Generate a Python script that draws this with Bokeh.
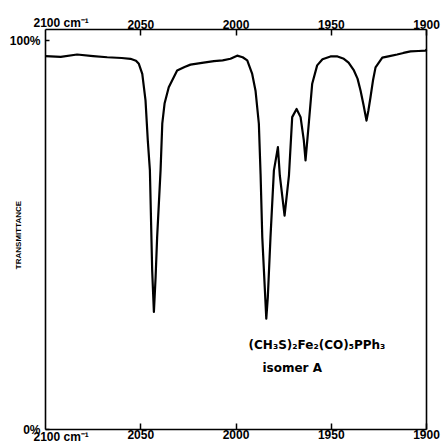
import math
from bokeh.plotting import figure
from bokeh.models import Range1d, FixedTicker, LinearAxis, Label
from bokeh.embed import file_html
from bokeh.resources import INLINE

# IR spectrum (wavenumber in cm-1, transmittance in %)
wavenumber = [2100.0, 2092.0, 2083.4, 2075.0, 2067.6, 2060.0, 2055.4, 2052.5, 2051.0,
              2049.2, 2047.5, 2046.3, 2045.2, 2044.0, 2043.1, 2042.2, 2041.4, 2039.6,
              2038.7, 2037.5, 2035.3, 2030.9, 2027.0, 2023.9, 2017.0, 2011.6, 2007.0,
              2002.9, 1999.4, 1996.5, 1994.1, 1991.5, 1989.75, 1988.0, 1987.1, 1986.2,
              1984.1, 1983.3, 1981.9, 1980.1, 1979.0, 1978.0, 1977.0, 1974.5, 1972.2,
              1970.5, 1968.2, 1966.1, 1964.4, 1963.5, 1961.8, 1960.0, 1957.4, 1954.6,
              1950.4, 1946.7, 1943.4, 1940.9, 1938.1, 1936.2, 1934.6, 1933.0, 1931.5,
              1930.5, 1929.4, 1928.1, 1926.75, 1923.2, 1919.4, 1915.4, 1912.1, 1908.4,
              1904.2, 1900.5, 1900.0]
transmittance = [96.0, 95.8, 96.4, 96.0, 95.7, 95.5, 95.3, 94.8, 94.0,
                 91.4, 84.6, 74.3, 66.6, 40.9, 30.2, 39.2, 49.4, 66.6,
                 78.6, 83.8, 88.0, 92.3, 93.2, 93.8, 94.3, 94.7, 94.9,
                 95.3, 96.1, 95.7, 94.9, 91.4, 87.1, 78.6, 65.7, 49.4,
                 28.5, 34.0, 49.4, 66.6, 69.7, 72.6, 65.3, 55.0, 65.3,
                 80.3, 82.4, 80.3, 74.3, 69.2, 78.6, 88.9, 93.6, 95.2,
                 95.9, 95.9, 95.3, 94.3, 92.3, 90.2, 87.1, 83.3, 79.4,
                 82.0, 85.4, 89.7, 93.1, 95.6, 96.0, 96.4, 96.8, 97.2,
                 97.3, 97.4, 97.7]

x_ticks = [2100, 2050, 2000, 1950, 1900]
x_tick_labels = ["2100 cm\u207b\u00b9", "2050", "2000", "1950", "1900"]
y_ticks = [0, 100]
y_tick_labels = ["0%", "100%"]
y_title = "TRANSMITTANCE"
compound = "(CH\u2083S)\u2082Fe\u2082(CO)\u2085PPh\u2083"
isomer = "isomer A"

FONT = "DejaVu Sans"
TICK_FONT = "Liberation Sans"

# layout (pixels): plot box inside a 442 x 444 canvas
W, H = 442, 444
BOX_L, BOX_R = 45, 426          # x pixels of 2100 and 1900 cm-1
PX_0, PX_100, BOX_T = 429, 40, 29  # y pixels of 0 %, 100 % and box top

x_hi, x_lo = x_ticks[0], x_ticks[-1]
ppx = (BOX_R - BOX_L) / (x_hi - x_lo)
ppy = (PX_0 - PX_100) / (y_ticks[1] - y_ticks[0])
x_start = x_hi + BOX_L / ppx
x_end = x_lo - (W - BOX_R) / ppx
y_start = y_ticks[0] - (H - PX_0) / ppy
y_end = y_ticks[1] + PX_100 / ppy
y_box_top = y_ticks[1] + (PX_100 - BOX_T) / ppy

p = figure(width=W, height=H, output_backend="svg", toolbar_location=None,
           x_range=Range1d(x_start, x_end), y_range=Range1d(y_start, y_end),
           min_border=0)
p.background_fill_color = "white"
p.border_fill_color = "white"
p.grid.visible = False
p.outline_line_color = None

bottom = p.xaxis[0]
left = p.yaxis[0]
top = LinearAxis()
right = LinearAxis()
p.add_layout(top, "above")
p.add_layout(right, "right")

label_map = dict(zip(x_ticks, x_tick_labels))
for ax, loc in [(bottom, y_ticks[0]), (top, y_box_top)]:
    ax.fixed_location = loc
    ax.bounds = (x_lo, x_hi)
    ax.ticker = FixedTicker(ticks=x_ticks[1:])
    ax.major_label_overrides = {t: label_map[t] for t in x_ticks[1:]}
    ax.major_tick_in = 6
bottom.major_label_standoff = 0
top.major_label_standoff = 1

left.fixed_location = x_hi
left.bounds = (y_ticks[0], y_box_top)
left.ticker = FixedTicker(ticks=y_ticks)
left.major_label_overrides = dict(zip(y_ticks, y_tick_labels))
left.major_tick_in = 4
left.major_label_standoff = 5

right.fixed_location = x_lo
right.bounds = (y_ticks[0], y_box_top)
right.ticker = FixedTicker(ticks=[])
right.major_tick_in = 0

for ax in [bottom, top, left, right]:
    ax.major_tick_out = 0
    ax.minor_tick_line_color = None
    ax.axis_line_color = "black"
    ax.axis_line_width = 1.6
    ax.major_tick_line_width = 1.5
    ax.major_label_text_font = TICK_FONT
    ax.major_label_text_font_style = "bold"
    ax.major_label_text_font_size = "12px"
    ax.major_label_text_color = "black"

p.line(wavenumber, transmittance, line_color="black", line_width=2.2,
       line_join="round")

# "2100 cm-1" labels start at the box corner, as in the original
for yy, yoff in [(y_ticks[0], -7), (y_box_top, 7)]:
    p.add_layout(Label(x=x_ticks[0], y=yy, text=x_tick_labels[0], x_offset=-12,
                       y_offset=yoff, text_align="left", text_baseline="middle",
                       text_font=TICK_FONT, text_font_style="bold",
                       text_font_size="12px", text_color="black"))
p.add_layout(Label(x=x_hi, y=50, text=y_title, x_offset=-27, angle=math.pi / 2,
                   text_align="center", text_baseline="middle",
                   text_font=TICK_FONT, text_font_style="bold",
                   text_font_size="8px", text_color="black"))
p.add_layout(Label(x=1993.4, y=21.6, text=compound, text_align="left",
                   text_baseline="middle", text_font=FONT, text_font_style="bold",
                   text_font_size="12px", text_color="black"))
p.add_layout(Label(x=1986.1, y=15.7, text=isomer, text_align="left",
                   text_baseline="middle", text_font=FONT, text_font_style="bold",
                   text_font_size="12px", text_color="black"))

open("out.html", "w").write(file_html(p, INLINE))
